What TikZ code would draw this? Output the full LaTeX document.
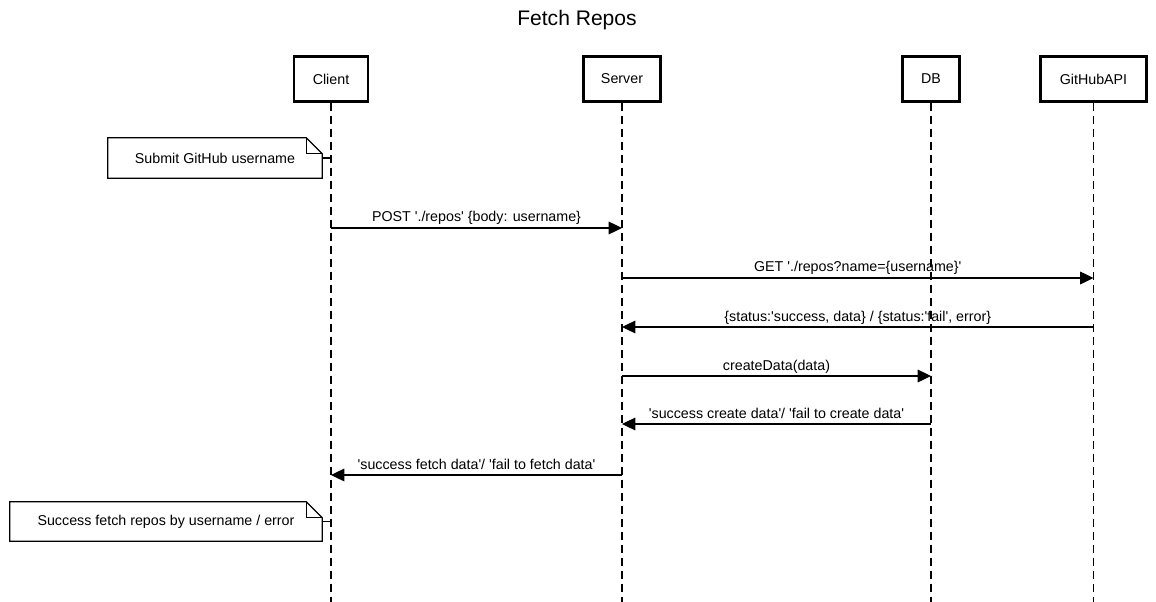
\documentclass[tikz,border=0pt]{standalone}
\usepackage{fontspec}
\setmainfont{Liberation Sans}[Ligatures={TeXOff,NoCommon}]
\usepackage{tikz}
\usetikzlibrary{arrows.meta}

\begin{document}
\begin{tikzpicture}[x=0.75pt, y=-0.75pt,
  every node/.style={font=\fontsize{10.7}{12}\selectfont},
  actor/.style={draw, line width=2.2pt, minimum height=33.75pt, inner sep=0pt},
  lifeline/.style={line width=0.9pt, dash pattern=on 6pt off 3.75pt},
  msg/.style={line width=0.9pt, -{Triangle[length=10pt, width=9.5pt]}},
  msgtext/.style={midway, anchor=base, yshift=4.5pt, inner sep=0pt},
  notebox/.style={inner sep=0pt},
  noteline/.style={line width=0.9pt}]

\useasboundingbox (0,0) rectangle (1156,602);

\node[font=\fontsize{15.8}{18}\selectfont] (title) at (577,20) {Fetch Repos};

\node[actor, minimum width=55.5pt] (client) at (331,79) {Client};
\node[actor, minimum width=57.75pt] (server) at (622,79) {Server};
\node[actor, minimum width=42.75pt] (db) at (931,79) {DB};
\node[actor, minimum width=79.5pt] (api) at (1093.5,79) {GitHubAPI};

\coordinate (bottom) at (0,602);
\draw[lifeline] (client.south) -- (client.south |- bottom);
\draw[lifeline] (server.south) -- (server.south |- bottom);
\draw[lifeline] (db.south) -- (db.south |- bottom);
\draw[lifeline] (api.south) -- (api.south |- bottom);

\node[notebox, minimum width=160.5pt, minimum height=30pt] (note1) at (215,158) {Submit GitHub username};
\draw[noteline] (note1.south west) -- (note1.north west) -- ([xshift=-12pt]note1.north east) -- ([yshift=-12pt]note1.north east) -- (note1.south east) -- cycle;
\draw[noteline] ([xshift=-12pt]note1.north east) -- ([xshift=-12pt, yshift=-12pt]note1.north east) -- ([yshift=-12pt]note1.north east);
\draw[noteline] (note1.east) -- (client |- note1.east);

\coordinate (m1) at (0,228);
\coordinate (m2) at (0,278);
\coordinate (m3) at (0,327);
\coordinate (m4) at (0,376);
\coordinate (m5) at (0,424);
\coordinate (m6) at (0,475);

\draw[msg] (client |- m1) -- node[msgtext] {POST './repos' \{body: username\}} (server |- m1);
\draw[msg] (server |- m2) -- node[msgtext] {GET './repos?name=\{username\}'} (api |- m2);
\draw[msg] (api |- m3) -- node[msgtext] {\{status:'success, data\} / \{status:'fail', error\}} (server |- m3);
\draw[msg] (server |- m4) -- node[msgtext] {createData(data)} (db |- m4);
\draw[msg] (db |- m5) -- node[msgtext] {'success create data'/ 'fail to create data'} (server |- m5);
\draw[msg] (server |- m6) -- node[msgtext] {'success fetch data'/ 'fail to fetch data'} (client |- m6);

\node[notebox, minimum width=234pt, minimum height=29.25pt] (note2) at (166,521.5) {Success fetch repos by username / error};
\draw[noteline] (note2.south west) -- (note2.north west) -- ([xshift=-12pt]note2.north east) -- ([yshift=-12pt]note2.north east) -- (note2.south east) -- cycle;
\draw[noteline] ([xshift=-12pt]note2.north east) -- ([xshift=-12pt, yshift=-12pt]note2.north east) -- ([yshift=-12pt]note2.north east);
\draw[noteline] (note2.east) -- (client |- note2.east);

\end{tikzpicture}
\end{document}
